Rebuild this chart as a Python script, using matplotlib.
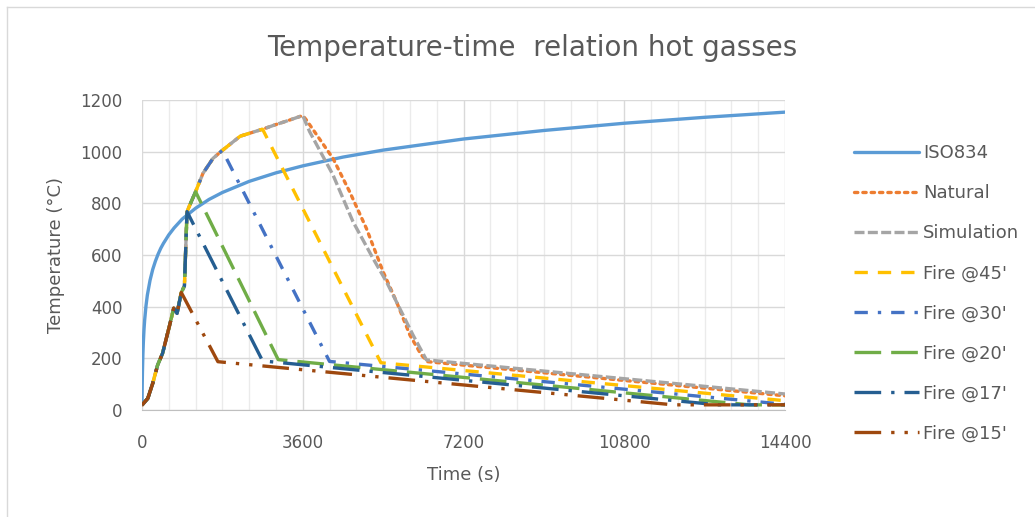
import numpy as np
import matplotlib.pyplot as plt
from matplotlib.lines import Line2D

# ISO834 standard curve
iso_t = [0, 5, 10, 20, 30, 45, 60, 90, 120, 180, 240, 300, 360, 420, 480,
         600, 720, 900, 1200, 1500, 1800, 2400, 3000, 3600, 4500, 5400,
         7200, 9000, 10800, 12600, 14400]
iso_T = [20, 96, 147, 215, 261, 312, 349, 404, 445, 502, 544, 576, 603, 626,
         645, 678, 705, 739, 781, 815, 842, 885, 918, 945, 979, 1006,
         1049, 1082, 1110, 1133, 1153]

# common heating phase of the natural fire
heat_t = [0, 130, 240, 350, 460, 610, 710, 785, 880, 950, 1008, 1200, 1365,
          1590, 1800, 2200, 2700, 3000, 3300, 3600]
heat_T = [19, 45, 103, 174, 219, 322, 394, 374, 455, 480, 768, 845, 916,
          974, 1005, 1060, 1087, 1105, 1122, 1140]

# decay parts: (time, temp) after the peak
natural_t = [3680, 4277, 4650, 5025, 5400, 5700, 6000, 6255, 6400, 14400]
natural_T = [1123, 974, 845, 703, 535, 419, 290, 213, 187, 55]
sim_t = [3755, 4277, 4725, 5173, 5473, 5770, 6070, 6370, 14400]
sim_T = [1077, 910, 729, 587, 497, 394, 290, 194, 62]
f45_t = [5350, 14400]
f45_T = [183, 36]
f30_t = [4200, 14400]
f30_T = [188, 22]
f20_t = [3050, 13600, 14400]
f20_T = [195, 20, 20]
f17_t = [2700, 12900, 14400]
f17_T = [190, 20, 20]
f15_t = [1700, 11900, 14400]
f15_T = [187, 20, 20]

peaks = {'Fire @45\'': 2700, 'Fire @30\'': 1800, 'Fire @20\'': 1200,
         'Fire @17\'': 1008, 'Fire @15\'': 880}


def series(t_peak, dec_t, dec_T):
    ht = [t for t in heat_t if t <= t_peak]
    hT = heat_T[:len(ht)]
    return ht + dec_t, hT + dec_T


fig = plt.figure(figsize=(10.35, 5.17), dpi=100)
ax = fig.add_axes([142 / 1035, 1 - 410 / 517, (785 - 142) / 1035, 310 / 517])

txt = '#595959'
lw = 2.4

lines = [
    ('ISO834', iso_t, iso_T, '#5B9BD5', '-'),
    ('Natural', *series(3600, natural_t, natural_T), '#ED7D31', (0, (1, 1.5))),
    ('Simulation', *series(3600, sim_t, sim_T), '#A5A5A5', (0, (3, 1))),
    ('Fire @45\'', *series(peaks['Fire @45\''], f45_t, f45_T), '#FFC000', (0, (4, 3))),
    ('Fire @30\'', *series(peaks['Fire @30\''], f30_t, f30_T), '#4472C4', (0, (4, 3, 1, 3))),
    ('Fire @20\'', *series(peaks['Fire @20\''], f20_t, f20_T), '#70AD47', (0, (8, 3))),
    ('Fire @17\'', *series(peaks['Fire @17\''], f17_t, f17_T), '#255E91', (0, (8, 3, 1, 3))),
    ('Fire @15\'', *series(peaks['Fire @15\''], f15_t, f15_T), '#9E480E', (0, (8, 3, 1, 3, 1, 3))),
]

handles = []
for name, t, T, c, ls in lines:
    capstyle = 'round' if name == 'Natural' else 'butt'
    ln, = ax.plot(t, T, color=c, lw=lw, linestyle=ls, label=name,
                  dash_capstyle=capstyle, solid_capstyle='round')
    handles.append(ln)

ax.set_xlim(0, 14400)
ax.set_ylim(0, 1200)
ax.set_xticks(np.arange(0, 14401, 3600))
ax.set_xticks(np.arange(0, 14401, 600), minor=True)
ax.set_yticks(np.arange(0, 1201, 200))
ax.grid(True, which='major', color='#D9D9D9', lw=1)
ax.grid(True, which='minor', axis='x', color='#EBEBEB', lw=1)
ax.set_axisbelow(True)
for s in ['top', 'right', 'left']:
    ax.spines[s].set_visible(False)
ax.spines['bottom'].set_color('#BFBFBF')
ax.tick_params(which='both', length=0)
ax.tick_params(axis='x', pad=17, labelsize=12, labelcolor=txt)
ax.tick_params(axis='y', pad=14, labelsize=12, labelcolor=txt)

ax.set_xlabel('Time (s)', fontsize=13, color=txt, labelpad=10)
ax.set_ylabel('Temperature (°C)', fontsize=13, color=txt, labelpad=10)
ax.yaxis.set_label_coords(-0.12, 0.5)

fig.text(532 / 1035, 1 - 48 / 517, 'Temperature-time  relation hot gasses',
         ha='center', va='center', fontsize=20, color=txt)

leg = fig.legend(handles=handles, loc='upper left',
                 bbox_to_anchor=(838 / 1035, 1 - 128 / 517),
                 frameon=False, fontsize=13, handlelength=3.6,
                 labelspacing=1.22, handletextpad=0.2)
for t in leg.get_texts():
    t.set_color(txt)

# outer chart border
fig.add_artist(Line2D([7 / 1035, 1], [1 - 7 / 517, 1 - 7 / 517],
                      transform=fig.transFigure, color='#D9D9D9', lw=1))
fig.add_artist(Line2D([7 / 1035, 7 / 1035], [0, 1 - 7 / 517],
                      transform=fig.transFigure, color='#D9D9D9', lw=1))

fig.savefig('out.png', dpi=100)
